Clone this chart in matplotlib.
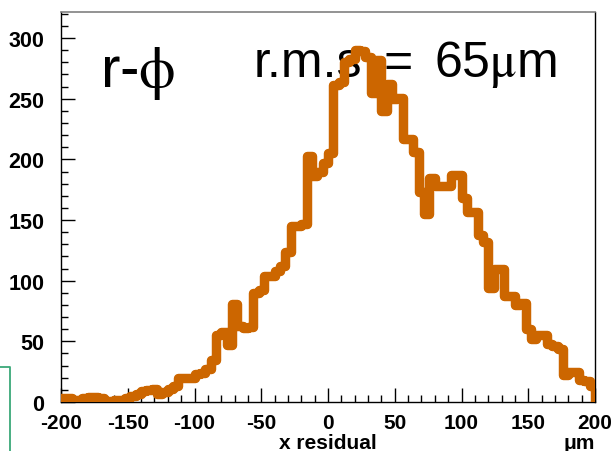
import numpy as np
import matplotlib
matplotlib.use("Agg")
import matplotlib.pyplot as plt
from matplotlib.ticker import MultipleLocator

# x residual histogram, 100 bins of 4 um from -200 to 200
bin_edges = np.arange(-200, 201, 4)
counts = [
    3, 3, 2, 2, 3, 4, 4, 3, 1, 1,
    2, 2, 3, 5, 7, 9, 10, 11, 7, 8,
    11, 13, 20, 20, 20, 23, 24, 27, 35, 55,
    58, 47, 81, 63, 61, 62, 90, 92, 104, 104,
    108, 112, 124, 145, 145, 147, 203, 186, 190, 197,
    205, 261, 264, 280, 283, 290, 289, 284, 255, 282,
    240, 262, 250, 251, 217, 217, 206, 173, 155, 185,
    178, 178, 178, 187, 187, 168, 157, 157, 138, 132,
    94, 110, 110, 87, 87, 80, 82, 60, 52, 55,
    55, 48, 46, 44, 22, 25, 25, 18, 17, 13,
]

plt.rcParams['font.family'] = ['Liberation Sans', 'DejaVu Sans']
plt.rcParams['axes.unicode_minus'] = False
plt.rcParams['mathtext.fontset'] = 'stix'

fig = plt.figure(figsize=(6.15, 4.52), dpi=100)
ax = fig.add_axes([61/615, 49/452, 534/615, 390/452])

ax.stairs(counts, bin_edges, baseline=0, color='#cc6600', lw=6.8,
          joinstyle='round', capstyle='round', zorder=5)

ax.set_xlim(-200, 200)
ax.set_ylim(0, 321.5)

ax.xaxis.set_major_locator(MultipleLocator(50))
ax.xaxis.set_minor_locator(MultipleLocator(10))
ax.yaxis.set_major_locator(MultipleLocator(50))
ax.yaxis.set_minor_locator(MultipleLocator(10))
ax.tick_params(which='both', direction='in', top=False, right=False,
               width=1, color='black')
ax.tick_params(which='major', length=10)
ax.tick_params(axis='x', which='major', pad=8, labelsize=15)
ax.tick_params(axis='y', which='major', pad=12, labelsize=15.5)
ax.tick_params(which='minor', length=5)
for lab in ax.get_xticklabels() + ax.get_yticklabels():
    lab.set_fontweight('bold')

for side in ['left', 'bottom', 'right']:
    ax.spines[side].set_color('black')
    ax.spines[side].set_linewidth(1)
ax.spines['top'].set_color('#808080')
ax.spines['top'].set_linewidth(1.2)

# axis labels
fig.text(328/615, 1 - 444/452, 'x residual', ha='center', va='center',
         fontsize=15, fontweight='bold')
fig.text(595/615, 1 - 444/452, 'μm', ha='right', va='center',
         fontsize=15, fontweight='bold')

# annotations, drawn under the histogram line
tf = fig.transFigure
ax.text(100/615, 1 - 87/452, r'r-$\mathrm{\phi}$', ha='left', va='baseline',
        fontsize=42, transform=tf, clip_on=False, zorder=3)
ax.text(254/615, 1 - 77/452, 'r.m.s', ha='left', va='baseline',
        fontsize=36, transform=tf, clip_on=False, zorder=3)
ax.text(383/615, 1 - 77/452, '=', ha='left', va='baseline',
        fontsize=36, transform=tf, clip_on=False, zorder=3)
ax.text(434/615, 1 - 77/452, r'65$\mathrm{\mu}$m', ha='left', va='baseline',
        fontsize=36, transform=tf, clip_on=False, zorder=3)

# stray green frame edge at bottom left
fig.add_artist(plt.Line2D([0, 10/615, 10/615], [1 - 368/452, 1 - 368/452, 0],
                          color='#3aa878', lw=1.3))

fig.savefig('out.png', dpi=100)
